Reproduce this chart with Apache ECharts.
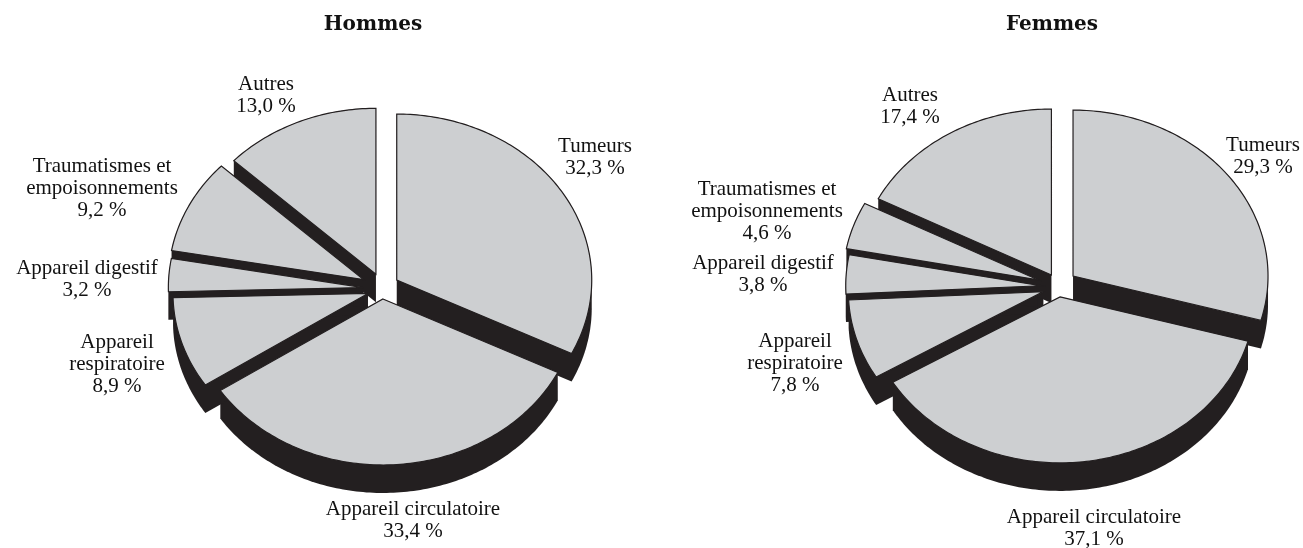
<!DOCTYPE html>
<html>
<head>
<meta charset="utf-8">
<script src="https://cdn.jsdelivr.net/npm/echarts@6/dist/echarts.min.js"></script>
<style>
  html, body { margin: 0; padding: 0; background: #fff; }
  #chart { width: 1303px; height: 548px; }
</style>
</head>
<body>
<div id="chart"></div>
<script>
// --- data ---
const categories = ['Tumeurs', 'Appareil circulatoire', 'Appareil respiratoire', 'Appareil digestif', 'Traumatismes et empoisonnements', 'Autres'];
const labelNames = ['Tumeurs', 'Appareil circulatoire', 'Appareil\nrespiratoire', 'Appareil digestif', 'Traumatismes et\nempoisonnements', 'Autres'];
const hommesValues = [32.3, 33.4, 8.9, 3.2, 9.2, 13.0];
const femmesValues = [29.3, 37.1, 7.8, 3.8, 4.6, 17.4];
const titles = ['Hommes', 'Femmes'];

// --- layout ---
// explode: how far each slice is pulled out from the centre (px)
const pies = [
  { values: hommesValues, cx: 382.3, cy: 289, titleX: 373,
    explode: [17, 10, 15, 19, 21, 16],
    labels: [[595, 157], [413, 520], [117, 364], [87, 279], [102, 188], [266, 95]] },
  { values: femmesValues, cx: 1058.7, cy: 287, titleX: 1052,
    explode: [18, 10, 16, 18, 22, 14],
    labels: [[1263, 156], [1094, 528], [795, 363], [763, 274], [767, 211], [910, 106]] }
];
const RX = 195, RY = 166, DEPTH = 28;
const GREY = '#cdcfd1', INK = '#231f20';

const fmt = v => v.toFixed(1).replace('.', ',') + '\u00a0%';

// top face of one slice (ellipse seen from above, slice pulled out from centre)
function sliceTop(pie, i) {
  const total = pie.values.reduce((a, b) => a + b, 0);
  let start = 0;
  for (let k = 0; k < i; k++) start += pie.values[k];
  const a1 = start / total * Math.PI * 2;
  const a2 = (start + pie.values[i]) / total * Math.PI * 2;
  const mid = (a1 + a2) / 2;
  const ax = pie.cx + pie.explode[i] * Math.sin(mid);
  const ay = pie.cy - pie.explode[i] * Math.cos(mid);
  const pts = [[ax, ay]];
  const n = Math.max(2, Math.ceil((a2 - a1) / (Math.PI / 180)));
  for (let s = 0; s <= n; s++) {
    const a = a1 + (a2 - a1) * s / n;
    pts.push([ax + RX * Math.sin(a), ay - RY * Math.cos(a)]);
  }
  return pts;
}

// convex hull (monotone chain), used for the extruded side of a slice
function hull(points) {
  const p = points.slice().sort((a, b) => a[0] - b[0] || a[1] - b[1]);
  const cross = (o, a, b) => (a[0] - o[0]) * (b[1] - o[1]) - (a[1] - o[1]) * (b[0] - o[0]);
  const lower = [];
  for (const q of p) {
    while (lower.length >= 2 && cross(lower[lower.length - 2], lower[lower.length - 1], q) <= 0) lower.pop();
    lower.push(q);
  }
  const upper = [];
  for (let i = p.length - 1; i >= 0; i--) {
    const q = p[i];
    while (upper.length >= 2 && cross(upper[upper.length - 2], upper[upper.length - 1], q) <= 0) upper.pop();
    upper.push(q);
  }
  upper.pop();
  lower.pop();
  return lower.concat(upper);
}

const series = [];
pies.forEach((pie) => {
  const data = pie.values.map((v, i) => ({ name: categories[i], value: v }));
  // sides (drawn first)
  series.push({
    type: 'custom',
    coordinateSystem: 'none',
    silent: true,
    z: 1,
    data: data,
    renderItem: (params) => {
      const top = sliceTop(pie, params.dataIndex);
      const side = hull(top.concat(top.map(q => [q[0], q[1] + DEPTH])));
      return { type: 'polygon', shape: { points: side }, style: { fill: INK } };
    }
  });
  // top faces + labels
  series.push({
    type: 'custom',
    coordinateSystem: 'none',
    silent: true,
    z: 2,
    data: data,
    renderItem: (params, api) => {
      const i = params.dataIndex;
      const top = sliceTop(pie, i);
      const pos = pie.labels[i];
      return {
        type: 'group',
        children: [
          { type: 'polygon', shape: { points: top },
            style: { fill: GREY, stroke: INK, lineWidth: 1.2, lineJoin: 'miter' } },
          { type: 'text', x: pos[0], y: pos[1],
            style: {
              text: labelNames[i] + '\n' + fmt(api.value(0)),
              fill: '#111',
              fontFamily: '"Liberation Serif", serif',
              fontSize: 21,
              lineHeight: 22,
              align: 'center',
              verticalAlign: 'middle'
            } }
        ]
      };
    }
  });
});

const chart = echarts.init(document.getElementById('chart'));
chart.setOption({
  animation: false,
  backgroundColor: '#fff',
  graphic: titles.map((t, p) => ({
    type: 'text',
    x: pies[p].titleX,
    y: 25,
    style: {
      text: t,
      fill: '#111',
      font: 'bold 20px "DejaVu Serif", serif',
      align: 'center',
      verticalAlign: 'middle'
    }
  })),
  series: series
});
</script>
</body>
</html>
